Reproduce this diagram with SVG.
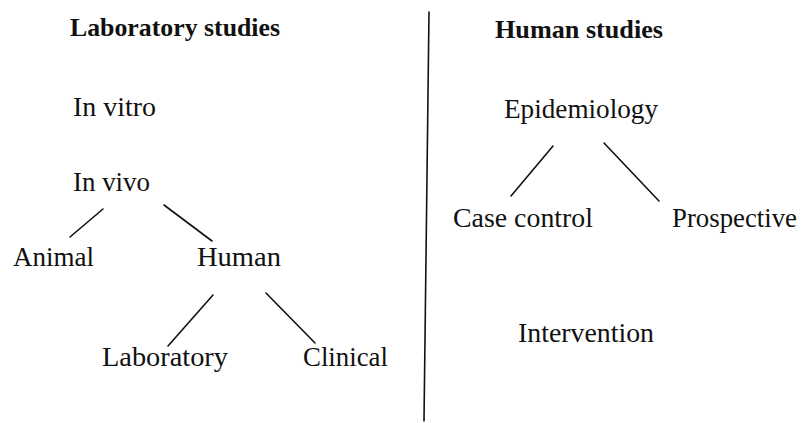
<svg xmlns="http://www.w3.org/2000/svg" width="801" height="423" viewBox="0 0 801 423">
<style>
text{font-family:"Liberation Serif","Times New Roman",serif;fill:#111;}
.h{font-size:25px;font-weight:bold;}
.n{font-size:27px;}
line{stroke:#111;stroke-width:1.6;stroke-linecap:round;}
</style>
<rect width="801" height="423" fill="#fff"/>
<g id="divider"><line x1="429" y1="12" x2="424" y2="421"/></g>
<g id="lab-studies"><text class="h" x="70" y="36" textLength="210" lengthAdjust="spacingAndGlyphs">Laboratory studies</text></g>
<g id="human-studies"><text class="h" x="495" y="38" textLength="168" lengthAdjust="spacingAndGlyphs">Human studies</text></g>
<g id="in-vitro"><text class="n" x="73" y="116" textLength="83" lengthAdjust="spacingAndGlyphs">In vitro</text></g>
<g id="in-vivo"><text class="n" x="73" y="191" textLength="77" lengthAdjust="spacingAndGlyphs">In vivo</text></g>
<g id="animal"><text class="n" x="13" y="266" textLength="81" lengthAdjust="spacingAndGlyphs">Animal</text></g>
<g id="human"><text class="n" x="197" y="266" textLength="84" lengthAdjust="spacingAndGlyphs">Human</text></g>
<g id="laboratory"><text class="n" x="102" y="366" textLength="126" lengthAdjust="spacingAndGlyphs">Laboratory</text></g>
<g id="clinical"><text class="n" x="303" y="366" textLength="85" lengthAdjust="spacingAndGlyphs">Clinical</text></g>
<g id="epidemiology"><text class="n" x="504" y="118" textLength="154" lengthAdjust="spacingAndGlyphs">Epidemiology</text></g>
<g id="case-control"><text class="n" x="453" y="227" textLength="140" lengthAdjust="spacingAndGlyphs">Case control</text></g>
<g id="prospective"><text class="n" x="672" y="227" textLength="125" lengthAdjust="spacingAndGlyphs">Prospective</text></g>
<g id="intervention"><text class="n" x="518" y="342" textLength="136" lengthAdjust="spacingAndGlyphs">Intervention</text></g>
<g id="connectors">
<line x1="103" y1="209" x2="70" y2="237"/>
<line x1="164" y1="205" x2="212" y2="241"/>
<line x1="213" y1="295" x2="168" y2="346"/>
<line x1="266" y1="293" x2="315" y2="343"/>
<line x1="553" y1="146" x2="511" y2="196"/>
<line x1="604" y1="143" x2="659" y2="201"/>
</g>
</svg>
